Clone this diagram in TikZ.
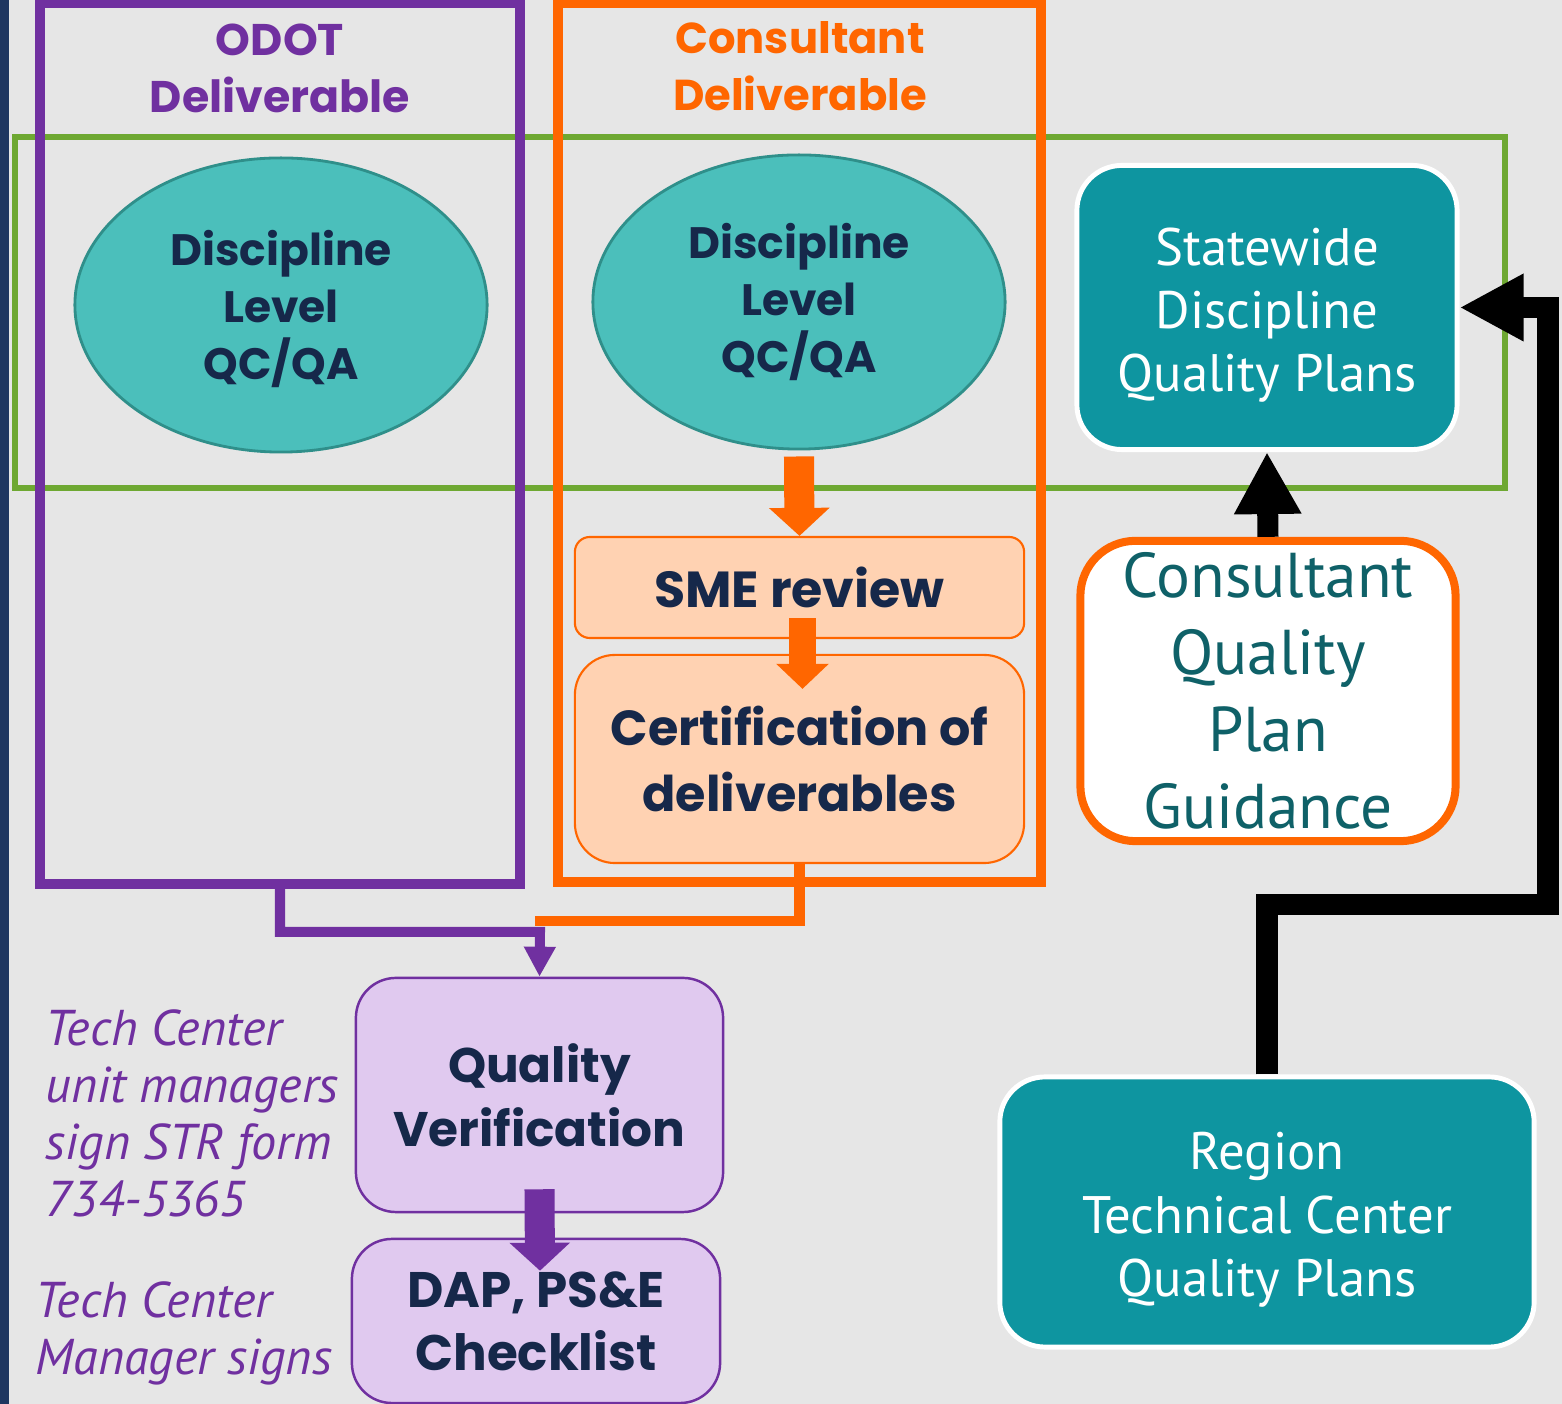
\documentclass[tikz,border=0pt]{standalone}
\usepackage{fontspec}
\usetikzlibrary{shapes.geometric,arrows.meta}
\newfontfamily\geofont{Poppins}
\newfontfamily\twfont{PT Sans}

\definecolor{pagebg}{HTML}{E6E6E6}
\definecolor{stripblue}{HTML}{1F3660}
\definecolor{odotpurple}{HTML}{7030A0}
\definecolor{consorange}{HTML}{FF6600}
\definecolor{bandgreen}{HTML}{6EA832}
\definecolor{discfill}{HTML}{4BBFBB}
\definecolor{discedge}{HTML}{2F8F8A}
\definecolor{navytext}{HTML}{16284A}
\definecolor{peach}{HTML}{FFD2B2}
\definecolor{lavender}{HTML}{E0C9EF}
\definecolor{tealbox}{HTML}{0E95A0}
\definecolor{guidetext}{HTML}{0F6168}

\tikzset{
  frame/.style={draw, line width=0.1cm},
  disc/.style={ellipse, draw=discedge, fill=discfill, line width=0.8pt,
    minimum width=4.12cm, minimum height=2.94cm, align=center, text=navytext,
    font=\geofont\bfseries\fontsize{12.5}{16.2}\selectfont},
  peachbox/.style={rectangle, draw=consorange, fill=peach, line width=0.6pt,
    align=center, text=navytext},
  lavbox/.style={rectangle, draw=odotpurple, fill=lavender, line width=0.7pt,
    rounded corners=0.4cm, align=center, text=navytext},
  plan/.style={rectangle, draw=white, fill=tealbox, line width=1.4pt,
    rounded corners=0.45cm, align=center, text=white,
    font=\twfont\fontsize{15}{18}\selectfont},
  note/.style={anchor=west, inner sep=0pt, align=left, text=odotpurple,
    font=\twfont\itshape\fontsize{14.3}{16.2}\selectfont},
  blockarrow/.style={line width=0.3cm, -{Triangle[width=0.59cm,length=0.28cm]}},
}

\begin{document}
\begin{tikzpicture}[x=0.01cm, y=-0.01cm]
  \useasboundingbox (0,0) rectangle (1562,1404);
  \fill[pagebg] (0,0) rectangle (1562,1404);
  \fill[stripblue] (0,0) rectangle (8.5,1404);

  % frames
  \node[frame, draw=bandgreen, line width=0.06cm, minimum width=14.9cm, minimum height=3.51cm] (band) at (760,312.5) {};
  \node[frame, draw=odotpurple, minimum width=4.8cm, minimum height=8.81cm] (odotframe) at (280,443.5) {};
  \node[frame, draw=consorange, minimum width=4.83cm, minimum height=8.79cm] (consframe) at (799.5,442.5) {};

  \node[text=odotpurple, align=center, font=\geofont\bfseries\fontsize{12.6}{16.2}\selectfont] (odottitle) at (280,68.5) {ODOT\\Deliverable};
  \node[text=consorange, align=center, font=\geofont\bfseries\fontsize{12.3}{16.2}\selectfont] (constitle) at (800,66.5) {Consultant\\Deliverable};

  \node[disc] (discodot) at (281,305) {\rule{0pt}{0.43cm}Discipline\\Level\\QC/QA};
  \node[disc] (disccons) at (799,302) {Discipline\\Level\\QC/QA};

  \node[peachbox, rounded corners=0.15cm, minimum width=4.49cm, minimum height=1.01cm,
    font=\geofont\bfseries\fontsize{14.4}{17}\selectfont] (sme) at (799.5,587.5) {SME review};
  \node[peachbox, rounded corners=0.4cm, minimum width=4.49cm, minimum height=2.08cm,
    font=\geofont\bfseries\fontsize{14}{18.5}\selectfont] (cert) at (799.5,759) {Certification of\\deliverables};

  \draw[blockarrow, consorange] ([yshift=-0.06cm]disccons.south) -- (sme.north);
  \draw[blockarrow, consorange, line width=0.26cm, -{Triangle[width=0.51cm,length=0.25cm]}]
    ([xshift=0.03cm,yshift=0.21cm]sme.south) -- ([xshift=0.03cm,yshift=-0.35cm]cert.north);

  \node[lavbox, minimum width=3.67cm, minimum height=2.34cm,
    font=\geofont\bfseries\fontsize{13.8}{18.2}\selectfont] (qv) at (539.5,1095) {Quality\\Verification};
  \node[lavbox, minimum width=3.68cm, minimum height=1.64cm,
    font=\geofont\bfseries\fontsize{14.2}{17.9}\selectfont] (dap) at (536,1321) {DAP, PS\&E\\Checklist};

  % joins into quality verification
  \coordinate (purplejoin) at (540,932);
  \coordinate (orangejoin) at (535,921.5);
  \draw[consorange, line width=0.1cm] (cert.south) |- (orangejoin);
  \draw[odotpurple, line width=0.1cm, -{Triangle[width=0.3cm,length=0.3cm]}]
    (odotframe.south) |- (purplejoin) -- (qv.north);
  \draw[blockarrow, odotpurple] ([yshift=0.24cm]qv.south) -- ([xshift=0.04cm,yshift=-0.33cm]dap.north);

  \node[note] (tcunit) at (45,1113) {Tech Center\\unit managers\\sign STR form\\734-5365};
  \node[note] (tcmanager) at (35,1333) {Tech Center\\Manager signs};

  % plans
  \node[plan, minimum width=3.8cm, minimum height=2.84cm] (statewide) at (1267,307.5) {\rule{0pt}{0.53cm}Statewide\\Discipline\\Quality Plans};
  \node[rectangle, draw=consorange, fill=white, line width=0.08cm, rounded corners=0.55cm,
    minimum width=3.75cm, minimum height=2.98cm, align=center, text=guidetext,
    font=\twfont\fontsize{18}{21.9}\selectfont] (guidance) at (1268,691) {Consultant\\Quality\\Plan\\Guidance};
  \node[plan, minimum width=5.34cm, minimum height=2.7cm] (region) at (1267,1212) {\rule{0pt}{0.53cm}Region\\Technical Center\\Quality Plans};

  \draw[line width=0.21cm, -{Triangle[width=0.63cm,length=0.62cm]}] (guidance.north) -- (statewide.south);
  \coordinate (regionbend) at (1548,905);
  \draw[line width=0.21cm, -{Triangle[width=0.63cm,length=0.64cm]}] (region.north) |- (regionbend) |- (statewide.east);
\end{tikzpicture}
\end{document}
